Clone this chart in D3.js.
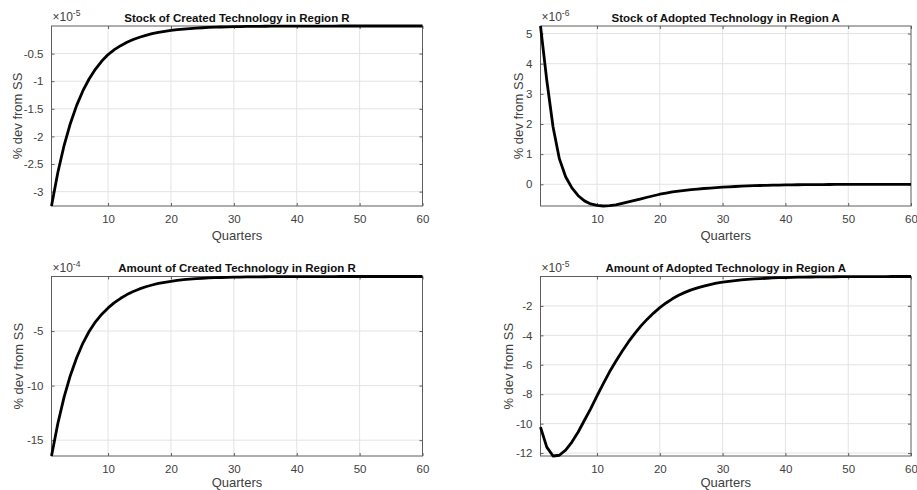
<!DOCTYPE html>
<html>
<head>
<meta charset="utf-8">
<script src="https://cdn.jsdelivr.net/npm/d3@7/dist/d3.min.js"></script>
<style>
  html, body { margin: 0; padding: 0; background: #fff; }
  svg { display: block; }
  text { font-family: "Liberation Sans", Arial, sans-serif; }
</style>
</head>
<body>
<svg id="chart" width="917" height="490"></svg>
<script>
// ---------------- DATA ----------------
const quarters = [1,2,3,4,5,6,7,8,9,10,11,12,13,14,15,16,17,18,19,20,
  21,22,23,24,25,26,27,28,29,30,31,32,33,34,35,36,37,38,39,40,
  41,42,43,44,45,46,47,48,49,50,51,52,53,54,55,56,57,58,59,60];

// Stock of Created Technology in Region R (x 1e-5)
const stockCreatedR = [-3.26,-2.657,-2.165,-1.765,-1.438,-1.172,-0.955,-0.779,-0.635,-0.517,
  -0.429,-0.356,-0.296,-0.245,-0.204,-0.169,-0.140,-0.117,-0.097,-0.080,
  -0.067,-0.055,-0.046,-0.038,-0.032,-0.026,-0.022,-0.018,-0.015,-0.012,
  -0.010,-0.0085,-0.007,-0.006,-0.005,-0.004,-0.0033,-0.0028,-0.0023,-0.0019,
  -0.0016,-0.0013,-0.0011,-0.0009,-0.0008,-0.0006,-0.0005,-0.0004,-0.0004,-0.0003,
  -0.0003,-0.0002,-0.0002,-0.0002,-0.0001,-0.0001,-0.0001,-0.0001,-0.0001,-0.0001];

// Stock of Adopted Technology in Region A (x 1e-6)
const stockAdoptedA = [5.25,3.45,1.9,0.85,0.25,-0.12,-0.38,-0.55,-0.65,-0.70,
  -0.72,-0.71,-0.68,-0.63,-0.58,-0.53,-0.48,-0.43,-0.38,-0.33,
  -0.29,-0.255,-0.225,-0.2,-0.18,-0.16,-0.14,-0.125,-0.11,-0.097,
  -0.085,-0.074,-0.064,-0.055,-0.047,-0.04,-0.034,-0.029,-0.025,-0.021,
  -0.018,-0.015,-0.013,-0.011,-0.009,-0.008,-0.007,-0.006,-0.005,-0.004,
  -0.0035,-0.003,-0.0025,-0.002,-0.0017,-0.0014,-0.0012,-0.001,-0.0008,-0.0007];

// Amount of Created Technology in Region R (x 1e-4)
const amountCreatedR = [-16.45,-13.49,-11.06,-9.07,-7.44,-6.10,-5.02,-4.15,-3.45,-2.88,
  -2.40,-2.00,-1.66,-1.38,-1.14,-0.94,-0.78,-0.64,-0.53,-0.44,
  -0.36,-0.295,-0.243,-0.2,-0.165,-0.135,-0.11,-0.09,-0.075,-0.062,
  -0.051,-0.042,-0.034,-0.028,-0.023,-0.019,-0.016,-0.013,-0.011,-0.009,
  -0.007,-0.006,-0.005,-0.004,-0.0035,-0.003,-0.0024,-0.002,-0.0016,-0.0013,
  -0.001,-0.0009,-0.0007,-0.0006,-0.0005,-0.0004,-0.0003,-0.0003,-0.0002,-0.0002];

// Amount of Adopted Technology in Region A (x 1e-5)
const amountAdoptedA = [-10.24,-11.6,-12.2,-12.15,-11.8,-11.25,-10.57,-9.77,-8.98,-8.12,
  -7.28,-6.48,-5.76,-5.08,-4.45,-3.88,-3.36,-2.90,-2.49,-2.12,
  -1.80,-1.52,-1.28,-1.08,-0.91,-0.77,-0.65,-0.55,-0.46,-0.39,
  -0.33,-0.28,-0.235,-0.2,-0.17,-0.145,-0.12,-0.1,-0.085,-0.072,
  -0.06,-0.05,-0.043,-0.036,-0.03,-0.025,-0.021,-0.018,-0.015,-0.012,
  -0.01,-0.009,-0.007,-0.006,-0.005,-0.004,-0.0035,-0.003,-0.0025,-0.002];

const titles = ["Stock of Created Technology in Region R",
                "Stock of Adopted Technology in Region A",
                "Amount of Created Technology in Region R",
                "Amount of Adopted Technology in Region A"];
const exponents = ["-5", "-6", "-4", "-5"];
const xTicks = [10, 20, 30, 40, 50, 60];
const yTicks1 = [-3, -2.5, -2, -1.5, -1, -0.5];
const yTicks2 = [0, 1, 2, 3, 4, 5];
const yTicks3 = [-15, -10, -5];
const yTicks4 = [-12, -10, -8, -6, -4, -2];
const xLabel = "Quarters";
const yLabel = "% dev from SS";

// ---------------- LAYOUT ----------------
const panels = [
  { data: stockCreatedR,  ticks: yTicks1, box: { l: 51.5, r: 422.5, t: 26, b: 206 }, ylx: 17, xly: 34 },
  { data: stockAdoptedA,  ticks: yTicks2, box: { l: 540.5, r: 911, t: 26, b: 206 }, ylx: 518, xly: 34 },
  { data: amountCreatedR, ticks: yTicks3, box: { l: 51.5, r: 422.5, t: 276.5, b: 456 }, ylx: 18, xly: 31 },
  { data: amountAdoptedA, ticks: yTicks4, box: { l: 540.5, r: 911, t: 276.5, b: 456 }, ylx: 508, xly: 31 }
];

const svg = d3.select("#chart");
svg.append("rect").attr("width", 917).attr("height", 490).attr("fill", "#fff");

const axisColor = "#5e5e5e";
const gridColor = "#e3e3e3";
const textColor = "#404040";

panels.forEach((p, i) => {
  const b = p.box;
  const x = d3.scaleLinear().domain([1, 60]).range([b.l, b.r]);
  const y = d3.scaleLinear().domain(d3.extent(p.data)).range([b.b, b.t]);
  const g = svg.append("g");

  // grid
  g.append("g").selectAll("line").data(xTicks.filter(v => v < 60)).join("line")
    .attr("x1", d => x(d)).attr("x2", d => x(d))
    .attr("y1", b.t).attr("y2", b.b)
    .attr("stroke", gridColor).attr("stroke-width", 1);
  g.append("g").selectAll("line").data(p.ticks).join("line")
    .attr("x1", b.l).attr("x2", b.r)
    .attr("y1", d => y(d)).attr("y2", d => y(d))
    .attr("stroke", gridColor).attr("stroke-width", 1);

  // axes via d3 axis (inward ticks)
  const fmt = d => String(d);
  const xAxis = g.append("g").attr("transform", `translate(0,${b.b})`)
    .call(d3.axisBottom(x).tickValues(xTicks).tickSizeInner(-3).tickSizeOuter(0).tickPadding(9).tickFormat(fmt));
  const xAxisTop = g.append("g").attr("transform", `translate(0,${b.t})`)
    .call(d3.axisTop(x).tickValues(xTicks).tickSizeInner(-3).tickSizeOuter(0).tickFormat(""));
  const yAxis = g.append("g").attr("transform", `translate(${b.l},0)`)
    .call(d3.axisLeft(y).tickValues(p.ticks).tickSizeInner(-3).tickSizeOuter(0).tickPadding(8).tickFormat(fmt));
  const yAxisRight = g.append("g").attr("transform", `translate(${b.r},0)`)
    .call(d3.axisRight(y).tickValues(p.ticks).tickSizeInner(-3).tickSizeOuter(0).tickFormat(""));
  [xAxis, xAxisTop, yAxis, yAxisRight].forEach(a => {
    a.select(".domain").remove();
    a.selectAll("line").attr("stroke", axisColor);
    a.selectAll("text").attr("fill", textColor).style("font-size", "11.5px")
      .style("font-family", "'Liberation Sans', Arial, sans-serif");
  });

  // box
  g.append("rect").attr("x", b.l).attr("y", b.t)
    .attr("width", b.r - b.l).attr("height", b.b - b.t)
    .attr("fill", "none").attr("stroke", axisColor).attr("stroke-width", 1);

  // line
  const line = d3.line().x((d, k) => x(quarters[k])).y(d => y(d));
  g.append("path").datum(p.data).attr("d", line)
    .attr("fill", "none").attr("stroke", "#000").attr("stroke-width", 2.8)
    .attr("stroke-linejoin", "round");

  // title
  g.append("text").attr("x", (b.l + b.r) / 2).attr("y", b.t - 4.5)
    .attr("text-anchor", "middle").attr("font-weight", "bold")
    .attr("font-size", "11.5px").attr("fill", "#111").text(titles[i]);

  // exponent
  const ex = g.append("text").attr("x", b.l + 1).attr("y", b.t - 5)
    .attr("font-size", "12px").attr("fill", textColor);
  ex.append("tspan").text("\u00d710");
  ex.append("tspan").attr("dy", -5).attr("font-size", "8.5px").text(exponents[i]);

  // x label
  g.append("text").attr("x", (b.l + b.r) / 2).attr("y", b.b + p.xly)
    .attr("text-anchor", "middle").attr("font-size", "13px").attr("fill", textColor).text(xLabel);

  // y label
  g.append("text").attr("transform", `translate(${p.ylx},${(b.t + b.b) / 2}) rotate(-90)`)
    .attr("text-anchor", "middle").attr("dominant-baseline", "central")
    .attr("font-size", "13px").attr("fill", textColor).text(yLabel);
});
</script>
</body>
</html>
